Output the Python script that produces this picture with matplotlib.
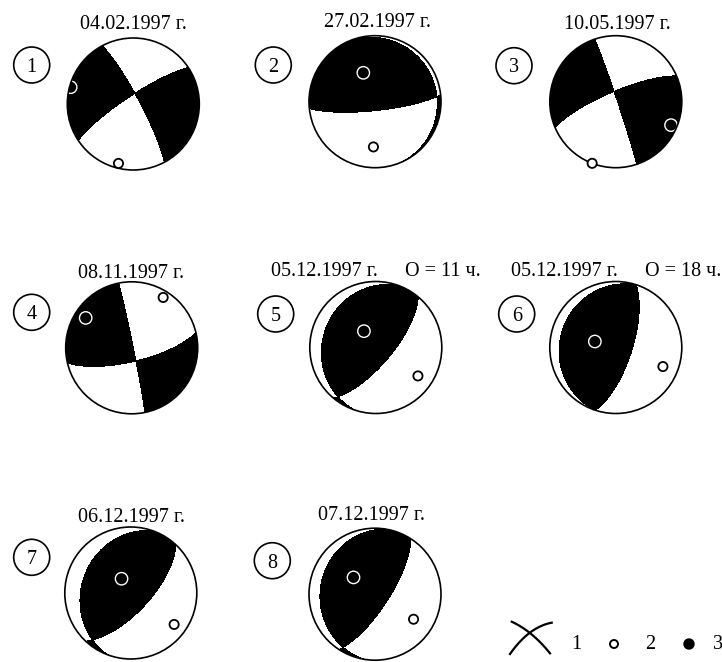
import numpy as np
import matplotlib.pyplot as plt
from matplotlib.patches import Circle

plt.rcParams['font.family'] = ['Liberation Serif', 'DejaVu Serif']

# event labels
dates = ['04.02.1997 г.', '27.02.1997 г.', '10.05.1997 г.', '08.11.1997 г.',
         '05.12.1997 г.', '05.12.1997 г.', '06.12.1997 г.', '07.12.1997 г.']
hours = [None, None, None, None, 'O = 11 ч.', 'O = 18 ч.', None, None]

# nodal planes, right-hand-rule strike and dip (degrees)
strike1 = [332, 84, 341.5, 348.5, 40, 18, 43, 33]
dip1 = [82, 79, 88, 88, 70, 70, 67, 73]
strike2 = [236.5, 335, 247, 76.7, 199, 198, 200, 189]
dip2 = [80, 7, 77.5, 73, 20, 16, 26, 18]

# principal axes, trend / plunge (degrees)
t_trend = [285, 338, 113, 303, 324, 286, 327, 308]
t_plunge = [2, 51, 10, 18, 65, 63, 69, 56]
p_trend = [194, 182, 201, 32, 124, 112, 126, 123]
p_plunge = [8, 32, 0, 11, 24, 24, 20, 31]

# page layout (pixels)
ball_xy = [(133.3, 104), (375, 101.7), (615.8, 101.7),
           (131.7, 347.8), (375.8, 347.5), (615.8, 347.5),
           (130.8, 593), (375, 594.2)]
ball_r = 66
date_xy = [(133, 29.3), (377, 26.7), (617, 29.3),
           (131, 278.3), (324, 276), (564, 276),
           (131, 521.7), (372, 520)]
hour_xy = [None, None, None, None, (405, 276), (645, 276), None, None]
num_xy = [(31.7, 65), (273.3, 65), (514, 65.7),
          (31.7, 312.3), (275.7, 314), (516.7, 314),
          (31.7, 557.3), (272.3, 560.7)]
FS = 14.5


def project(trend, plunge):
    # Schmidt net, lower hemisphere
    r = np.sqrt(2) * np.sin(np.radians(90 - plunge) / 2)
    t = np.radians(trend)
    return r * np.sin(t), r * np.cos(t)


def plane_normal(strike, dip):
    a = np.radians(strike + 90)
    d = np.radians(dip)
    return np.array([-np.sin(d) * np.cos(a), -np.sin(d) * np.sin(a), np.cos(d)])


def direction(trend, plunge):
    t, p = np.radians(trend), np.radians(plunge)
    return np.array([np.cos(p) * np.cos(t), np.cos(p) * np.sin(t), np.sin(p)])


fig = plt.figure(figsize=(7.22, 6.62), dpi=100)
ax = fig.add_axes([0, 0, 1, 1])
ax.set_xlim(0, 722)
ax.set_ylim(662, 0)
ax.set_aspect('equal')
ax.axis('off')

u = np.linspace(-1.03, 1.03, 401)
U, V = np.meshgrid(u, u)
R = np.clip(np.hypot(U, V), 0, np.sqrt(2))
theta = 2 * np.arcsin(R / np.sqrt(2))
az = np.arctan2(U, V)
vec = np.stack([np.sin(theta) * np.cos(az), np.sin(theta) * np.sin(az), np.cos(theta)])

for i in range(8):
    cx, cy = ball_xy[i]
    n1 = plane_normal(strike1[i], dip1[i])
    n2 = plane_normal(strike2[i], dip2[i])
    f = np.tensordot(n1, vec, 1) * np.tensordot(n2, vec, 1)
    t_vec = direction(t_trend[i], t_plunge[i])
    f *= np.sign(np.dot(n1, t_vec) * np.dot(n2, t_vec))

    clip = Circle((cx, cy), ball_r, transform=ax.transData)
    cs = ax.contourf(cx + ball_r * U, cy - ball_r * V, f,
                     levels=[0, f.max() + 1], colors='black', zorder=1)
    cs.set_clip_path(clip)

    tx, ty = project(t_trend[i], t_plunge[i])
    ax.add_patch(Circle((cx + ball_r * tx, cy - ball_r * ty), 6.2, fill=False,
                        ec='white', lw=1.0, zorder=2))
    ax.add_patch(Circle((cx, cy), ball_r, fill=False, ec='black', lw=1.2, zorder=3))
    px, py = project(p_trend[i], p_plunge[i])
    ax.add_patch(Circle((cx + ball_r * px, cy - ball_r * py), 4.6, fc='white',
                        ec='black', lw=1.3, zorder=4))

    ax.text(*date_xy[i], dates[i], fontsize=FS, ha='center', va='baseline')
    if hours[i]:
        ax.text(*hour_xy[i], hours[i], fontsize=FS, ha='left', va='baseline')
    nx, ny = num_xy[i]
    ax.add_patch(Circle((nx, ny), 18, fill=False, ec='black', lw=1.2))
    ax.text(nx, ny + 6.8, str(i + 1), fontsize=FS, ha='center', va='baseline')

# legend: nodal planes, open axis, filled axis
s = np.linspace(0, 1, 50)
for p0, pc, p2 in [((511.7, 621.7), (532, 631), (550, 653.3)),
                   ((510, 654), (529, 627), (551.7, 622.7))]:
    bx = (1 - s) ** 2 * p0[0] + 2 * s * (1 - s) * pc[0] + s ** 2 * p2[0]
    by = (1 - s) ** 2 * p0[1] + 2 * s * (1 - s) * pc[1] + s ** 2 * p2[1]
    ax.plot(bx, by, color='black', lw=1.6)
ax.add_patch(Circle((614, 644), 4, fc='white', ec='black', lw=1.4))
ax.add_patch(Circle((689, 644), 5, fc='black', ec='black'))
for x, lab in [(576.7, '1'), (650, '2'), (718, '3')]:
    ax.text(x, 649, lab, fontsize=FS, ha='center', va='baseline')

fig.savefig('out.png', dpi=100, facecolor='white')
